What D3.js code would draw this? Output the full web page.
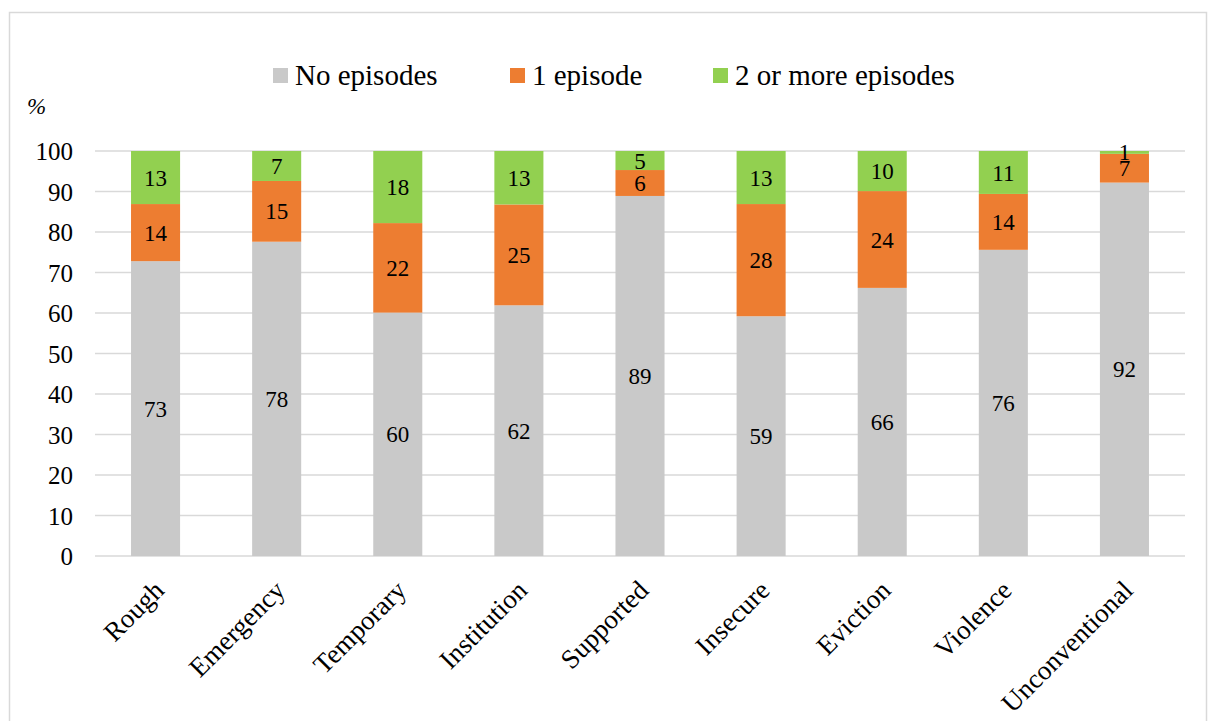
<!DOCTYPE html>
<html>
<head>
<meta charset="utf-8">
<script src="https://cdn.jsdelivr.net/npm/d3@7"></script>
<style>
  html, body { margin: 0; padding: 0; background: #fff; }
  svg { display: block; }
  svg text { fill: #000; }
</style>
</head>
<body>
<svg id="chart" width="1213" height="721"></svg>
<script>
const categories = ["Rough", "Emergency", "Temporary", "Institution", "Supported", "Insecure", "Eviction", "Violence", "Unconventional"];
const noEpisodes = [72.8, 77.6, 60.1, 61.9, 88.9, 59.2, 66.2, 75.6, 92.2];
const oneEpisode = [14.1, 15.0, 22.1, 24.9, 6.4, 27.7, 23.9, 13.8, 7.1];
const twoPlus = [13.1, 7.4, 17.8, 13.2, 4.7, 13.1, 9.9, 10.6, 0.7];
const seriesNames = ["No episodes", "1 episode", "2 or more episodes"];
const seriesColors = ["#c9c9c9", "#ed7d31", "#92d050"];
const yTicks = [0, 10, 20, 30, 40, 50, 60, 70, 80, 90, 100];

const FONT = '"Liberation Serif", Tinos, "Times New Roman", Times, "DejaVu Serif", serif';
const svg = d3.select("#chart");
const W = 1213, H = 721;

// outer border
svg.append("rect").attr("x", 9.5).attr("y", 12.5).attr("width", 1197).attr("height", 740)
  .attr("fill", "#fff").attr("stroke", "#d9d9d9").attr("stroke-width", 1.5);

const x = d3.scaleBand().domain(categories).range([95, 1185]).paddingInner(0.595).paddingOuter(0.2975);
const y = d3.scaleLinear().domain([0, 100]).range([556, 151]);

// gridlines
svg.append("g").selectAll("line").data(yTicks).join("line")
  .attr("x1", 95).attr("x2", 1185)
  .attr("y1", d => y(d)).attr("y2", d => y(d))
  .attr("stroke", "#d9d9d9").attr("stroke-width", 1.5);

// y axis labels
const yAxis = d3.axisLeft(y).tickValues(yTicks).tickSize(0).tickPadding(0);
const yg = svg.append("g").attr("transform", "translate(73,0)").call(yAxis)
  .attr("font-family", FONT).attr("font-size", 25);
yg.select(".domain").remove();
yg.selectAll("text").attr("dy", "0.34em");

// % label
svg.append("text").attr("x", 27).attr("y", 114).attr("font-family", FONT)
  .attr("font-size", 23).attr("font-style", "italic").text("%");

// stack
const rows = categories.map((c, i) => ({ cat: c, s0: noEpisodes[i], s1: oneEpisode[i], s2: twoPlus[i] }));
const stack = d3.stack().keys(["s0", "s1", "s2"])(rows);

const layers = svg.append("g").selectAll("g").data(stack).join("g")
  .attr("fill", (d, i) => seriesColors[i]);
layers.selectAll("rect").data(d => d).join("rect")
  .attr("x", d => x(d.data.cat))
  .attr("width", x.bandwidth())
  .attr("y", d => y(d[1]))
  .attr("height", d => y(d[0]) - y(d[1]));

// data labels
const labG = svg.append("g").attr("font-family", FONT).attr("font-size", 23);
stack.forEach((layer) => {
  labG.selectAll(null).data(layer).join("text")
    .attr("x", d => x(d.data.cat) + x.bandwidth() / 2)
    .attr("y", d => (y(d[0]) + y(d[1])) / 2)
    .attr("dy", "0.35em")
    .attr("text-anchor", "middle")
    .text(d => Math.round(d[1] - d[0]));
});

// x axis category labels
const xAxis = d3.axisBottom(x).tickSize(0).tickPadding(0);
const xg = svg.append("g").attr("transform", "translate(0,556)").call(xAxis)
  .attr("font-family", FONT).attr("font-size", 27);
xg.select(".domain").remove();
xg.selectAll(".tick text")
  .attr("text-anchor", "end")
  .attr("dy", 0)
  .attr("transform", "translate(10,36) rotate(-45)");

// legend
const legendX = [273, 510, 713];
const lg = svg.append("g").attr("font-family", FONT).attr("font-size", 29);
seriesNames.forEach((name, i) => {
  lg.append("rect").attr("x", legendX[i]).attr("y", 68).attr("width", 15).attr("height", 15).attr("fill", seriesColors[i]);
  lg.append("text").attr("x", legendX[i] + 22).attr("y", 85).text(name);
});
</script>
</body>
</html>
